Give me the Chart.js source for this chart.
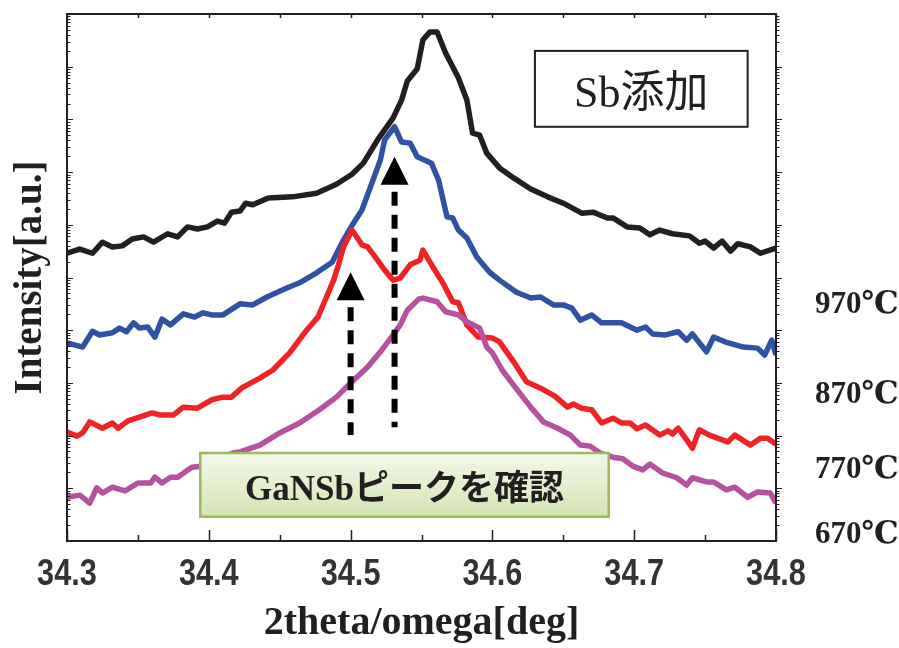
<!DOCTYPE html>
<html>
<head>
<meta charset="utf-8">
<script src="https://cdn.jsdelivr.net/npm/chart.js@4/dist/chart.umd.min.js"></script>
<style>
html,body{margin:0;padding:0;background:#fff;}
#wrap{width:899px;height:648px;}
</style>
</head>
<body>
<div id="wrap"><canvas id="c" width="899" height="648"></canvas></div>
<script>
// ---------- data ----------
const seriesNames = ['970℃', '870℃', '770℃', '670℃'];
const xTickLabels = ['34.3', '34.4', '34.5', '34.6', '34.7', '34.8'];

const x970 = [34.300,34.309,34.318,34.325,34.332,34.339,34.346,34.354,34.361,34.371,34.378,34.385,34.392,34.399,34.406,34.411,34.416,34.422,34.426,34.431,34.442,34.459,34.476,34.490,34.501,34.509,34.519,34.530,34.536,34.540,34.547,34.551,34.556,34.561,34.567,34.576,34.582,34.586,34.591,34.596,34.605,34.615,34.627,34.639,34.650,34.663,34.671,34.681,34.685,34.695,34.704,34.711,34.718,34.727,34.739,34.746,34.750,34.756,34.762,34.768,34.773,34.782,34.789,34.800];
const y970 = [54.6,55.4,54.6,56.7,55.8,56.0,57.3,57.7,56.7,58.3,57.7,59.6,59.2,59.6,60.7,60.3,62.4,62.6,64.1,63.8,65.1,65.3,66.0,67.7,69.6,71.7,76.1,80.3,83.7,87.3,89.6,95.1,96.6,96.6,92.6,87.9,83.7,77.4,77.0,73.6,70.8,68.9,66.8,65.3,64.1,62.2,62.4,61.3,61.3,59.6,59.4,58.1,59.0,58.3,57.9,56.5,56.9,55.6,56.9,55.0,56.4,55.8,54.6,55.6];

const x870 = [34.300,34.311,34.318,34.323,34.332,34.337,34.342,34.347,34.351,34.357,34.362,34.367,34.373,34.382,34.390,34.396,34.402,34.410,34.422,34.431,34.441,34.455,34.464,34.476,34.487,34.495,34.502,34.508,34.515,34.521,34.524,34.531,34.536,34.542,34.547,34.557,34.562,34.568,34.572,34.576,34.582,34.589,34.598,34.605,34.617,34.627,34.634,34.643,34.650,34.656,34.662,34.670,34.677,34.691,34.702,34.708,34.713,34.722,34.731,34.737,34.741,34.751,34.756,34.764,34.777,34.787,34.792,34.797,34.800];
const y870 = [37.6,36.8,39.8,39.1,39.5,40.4,39.7,41.4,40.4,40.6,38.7,42.1,41.0,43.1,42.5,43.3,42.9,42.9,45.0,44.8,46.3,48.0,49.0,50.9,52.9,57.1,60.3,62.8,67.9,72.3,76.1,78.6,75.7,75.5,72.9,71.7,68.5,61.5,61.3,59.0,57.5,53.9,51.0,49.5,47.2,46.1,46.3,44.8,44.8,44.2,41.9,42.9,41.4,41.4,40.0,40.6,39.3,39.1,39.7,38.1,39.3,35.9,38.7,37.8,36.8,36.6,35.3,38.1,35.3];

const x770 = [34.300,34.307,34.311,34.316,34.325,34.332,34.336,34.343,34.351,34.360,34.366,34.375,34.382,34.392,34.402,34.410,34.416,34.423,34.436,34.445,34.457,34.469,34.477,34.483,34.488,34.491,34.495,34.501,34.508,34.512,34.519,34.524,34.530,34.535,34.542,34.549,34.551,34.558,34.565,34.572,34.576,34.582,34.590,34.600,34.605,34.615,34.624,34.634,34.644,34.653,34.657,34.663,34.670,34.677,34.685,34.691,34.697,34.702,34.708,34.718,34.724,34.727,34.731,34.737,34.741,34.746,34.753,34.766,34.771,34.782,34.789,34.794,34.800];
const y770 = [20.7,19.9,20.5,22.6,21.4,22.4,21.4,22.8,23.5,24.3,23.9,23.9,25.4,25.2,26.8,27.3,27.3,29.0,30.9,32.4,35.7,40.0,42.5,46.3,49.5,52.0,55.8,59.0,56.2,55.8,53.3,51.4,49.5,49.9,52.4,53.3,55.2,52.0,49.0,45.4,45.2,41.0,38.7,38.5,37.8,34.0,30.2,29.0,27.5,25.4,26.0,25.2,24.9,22.4,23.3,22.4,22.4,21.3,22.0,20.1,20.9,20.3,21.4,19.2,17.6,21.1,20.1,18.8,20.1,18.2,19.5,19.5,18.4];

const x670 = [34.300,34.309,34.316,34.321,34.325,34.332,34.341,34.350,34.359,34.362,34.367,34.373,34.378,34.388,34.394,34.404,34.417,34.422,34.436,34.450,34.464,34.478,34.490,34.500,34.512,34.521,34.530,34.535,34.540,34.548,34.551,34.561,34.567,34.576,34.582,34.591,34.596,34.600,34.607,34.616,34.627,34.636,34.646,34.655,34.662,34.669,34.676,34.685,34.692,34.699,34.706,34.711,34.720,34.730,34.737,34.741,34.751,34.756,34.765,34.771,34.780,34.787,34.796,34.800];
const y670 = [8.3,8.7,7.2,10.1,9.1,10.2,9.5,11.0,11.0,12.1,11.0,12.1,12.1,14.0,14.2,15.4,16.7,16.9,18.2,20.5,22.4,24.9,27.3,30.0,33.0,35.9,39.1,41.0,43.8,45.9,46.1,45.4,43.5,42.9,41.6,40.4,36.8,35.7,32.4,29.2,25.4,22.6,21.4,20.1,18.2,18.0,16.7,15.9,15.6,14.2,13.5,14.6,12.9,12.0,10.6,12.0,11.2,11.2,9.7,10.2,8.3,9.3,9.1,7.2];

// ---------- styling / annotation settings ----------
const INK = '#231f20';
const colors = ['#231f20', '#2f52a3', '#ee2227', '#b5519f'];
const serif = "'Liberation Serif', 'Times New Roman', 'DejaVu Serif', 'Noto Sans CJK JP', serif";
const tickFont = "bold 37px 'Liberation Sans', Arial, sans-serif";

// annotation anchors in data units (x in deg, y in plot units)
const arrows = [
  {x: 34.500, tip: 51.0, base: 45.7, tail: 20.1},
  {x: 34.531, tip: 72.9, base: 67.6, tail: 21.6}
];
const sbBox = {x0: 34.630, x1: 34.780, y0: 93.0, y1: 78.6, text: 'Sb添加', baseline: 82.4};
const peakBox = {x0: 34.394, x1: 34.682, y0: 16.7, y1: 4.6, text: 'GaNSbピークを確認', baseline: 7.8};
const tempLabelBaselines = [43.3, 26.2, 12.0, -0.4];

// log-style minor ticks for the (label-less) intensity axes
const yLogTicks = [];
for (let d = 0; d < 10; d++) for (let k = 1; k <= 9; k++) yLogTicks.push(k * Math.pow(10, d));

const mk = (xs, ys) => xs.map((x, i) => ({x: x, y: ys[i]}));
const seriesX = [x970, x870, x770, x670];
const seriesY = [y970, y870, y770, y670];

const datasets = seriesNames.map((n, i) => ({
  label: n,
  data: mk(seriesX[i], seriesY[i]),
  borderColor: colors[i],
  backgroundColor: colors[i],
  borderWidth: 5.5,
  pointRadius: 0,
  borderJoinStyle: 'round',
  borderCapStyle: 'butt',
  tension: 0,
  order: [0, 3, 2, 1][i]
}));

const isMajorX = v => Math.abs((v - 34.3) * 10 - Math.round((v - 34.3) * 10)) < 1e-6;

const decorPlugin = {
  id: 'decor',
  afterDatasetsDraw(chart) {
    const {ctx, chartArea: a, scales} = chart;
    const xs = scales.x, ys = scales.y, yl = scales.yl;
    ctx.save();
    // frame
    ctx.strokeStyle = INK;
    ctx.lineWidth = 2;
    ctx.strokeRect(a.left, a.top, a.right - a.left, a.bottom - a.top);
    // x ticks (inward) and condensed tick labels
    ctx.lineWidth = 1.5;
    xs.ticks.forEach(t => {
      const px = Math.round(xs.getPixelForValue(t.value)) + 0.5;
      const major = isMajorX(t.value);
      const L = major ? 11 : 6;
      ctx.beginPath();
      ctx.moveTo(px, a.bottom); ctx.lineTo(px, a.bottom - L);
      ctx.moveTo(px, a.top); ctx.lineTo(px, a.top + 4);
      ctx.stroke();
      if (major) {
        const k = Math.round((t.value - 34.3) * 10);
        ctx.save();
        ctx.translate(xs.getPixelForValue(t.value), a.bottom + 44);
        ctx.scale(0.83, 1);
        ctx.fillStyle = '#333';
        ctx.font = tickFont;
        ctx.textAlign = 'center';
        ctx.textBaseline = 'alphabetic';
        ctx.fillText(xTickLabels[k], 0, 0);
        ctx.restore();
      }
    });
    // y log ticks
    ctx.lineWidth = 1;
    yl.ticks.forEach(t => {
      const py = Math.round(yl.getPixelForValue(t.value)) + 0.5;
      if (py < a.top + 2 || py > a.bottom - 2) return;
      const dec = Math.abs(Math.log10(t.value) - Math.round(Math.log10(t.value))) < 1e-9;
      const L = dec ? 6 : 3.5;
      ctx.beginPath();
      ctx.moveTo(a.left, py); ctx.lineTo(a.left + L, py);
      ctx.moveTo(a.right, py); ctx.lineTo(a.right + L, py);
      ctx.stroke();
    });

    // dashed arrows
    arrows.forEach(ar => {
      const px = xs.getPixelForValue(ar.x);
      const pTip = ys.getPixelForValue(ar.tip);
      const pBase = ys.getPixelForValue(ar.base);
      const pTail = ys.getPixelForValue(ar.tail);
      ctx.strokeStyle = '#000';
      ctx.lineWidth = 6;
      ctx.setLineDash([14, 9]);
      ctx.beginPath();
      ctx.moveTo(px, pBase + 7);
      ctx.lineTo(px, pTail);
      ctx.stroke();
      ctx.setLineDash([]);
      ctx.fillStyle = '#000';
      ctx.beginPath();
      ctx.moveTo(px, pTip);
      ctx.lineTo(px - 14, pBase);
      ctx.lineTo(px + 14, pBase);
      ctx.closePath();
      ctx.fill();
    });

    // GaNSb box
    {
      const x0 = xs.getPixelForValue(peakBox.x0), x1 = xs.getPixelForValue(peakBox.x1);
      const y0 = ys.getPixelForValue(peakBox.y0), y1 = ys.getPixelForValue(peakBox.y1);
      const g = ctx.createLinearGradient(0, y0, 0, y1);
      g.addColorStop(0, '#f3f8ea');
      g.addColorStop(1, '#d5e4b2');
      ctx.fillStyle = g;
      ctx.fillRect(x0, y0, x1 - x0, y1 - y0);
      ctx.strokeStyle = '#9bbb59';
      ctx.lineWidth = 2.5;
      ctx.strokeRect(x0, y0, x1 - x0, y1 - y0);
      ctx.fillStyle = INK;
      ctx.font = "bold 35px " + serif;
      ctx.textAlign = 'center';
      ctx.textBaseline = 'alphabetic';
      ctx.fillText(peakBox.text, (x0 + x1) / 2, ys.getPixelForValue(peakBox.baseline));
    }
    // Sb box
    {
      const x0 = xs.getPixelForValue(sbBox.x0), x1 = xs.getPixelForValue(sbBox.x1);
      const y0 = ys.getPixelForValue(sbBox.y0), y1 = ys.getPixelForValue(sbBox.y1);
      ctx.fillStyle = '#fff';
      ctx.fillRect(x0, y0, x1 - x0, y1 - y0);
      ctx.strokeStyle = INK;
      ctx.lineWidth = 2;
      ctx.strokeRect(x0, y0, x1 - x0, y1 - y0);
      ctx.fillStyle = INK;
      ctx.font = "44px " + serif;
      ctx.textAlign = 'center';
      ctx.textBaseline = 'alphabetic';
      ctx.fillText(sbBox.text, (x0 + x1) / 2, ys.getPixelForValue(sbBox.baseline));
    }
    // temperature labels on the right
    ctx.fillStyle = INK;
    ctx.font = "bold 31px " + serif;
    ctx.textAlign = 'left';
    ctx.textBaseline = 'alphabetic';
    seriesNames.forEach((n, i) => {
      ctx.fillText(n, a.right + 39, ys.getPixelForValue(tempLabelBaselines[i]));
    });
    ctx.restore();
  }
};

new Chart(document.getElementById('c'), {
  type: 'line',
  data: {datasets: datasets},
  options: {
    responsive: false,
    animation: false,
    devicePixelRatio: 1,
    layout: {padding: {top: 14, right: 123, left: 0, bottom: 0}},
    plugins: {legend: {display: false}, tooltip: {enabled: false}},
    elements: {point: {radius: 0}},
    scales: {
      x: {
        type: 'linear', position: 'bottom', min: 34.3, max: 34.8,
        grid: {display: false, drawTicks: false},
        border: {display: false},
        ticks: {stepSize: 0.05, autoSkip: false, maxRotation: 0, display: false},
        title: {display: true, text: '2theta/omega[deg]', color: INK,
          font: {family: serif, size: 40, weight: 'bold', lineHeight: 1},
          padding: {top: 0, bottom: 4}},
        afterFit: s => { s.height = 107; }
      },
      y: {
        type: 'linear', position: 'left', min: 0, max: 100,
        grid: {display: false, drawTicks: false},
        border: {display: false},
        ticks: {display: false},
        title: {display: true, text: 'Intensity[a.u.]', color: INK,
          font: {family: serif, size: 39, weight: 'bold', lineHeight: 1},
          padding: {top: 11, bottom: 0}},
        afterFit: s => { s.width = 67; }
      },
      yl: {
        type: 'logarithmic', position: 'right', min: 1, max: 1e10,
        grid: {display: false, drawTicks: false},
        border: {display: false},
        ticks: {display: false},
        afterBuildTicks: s => { s.ticks = yLogTicks.map(v => ({value: v})); },
        afterFit: s => { s.width = 0; }
      }
    }
  },
  plugins: [decorPlugin]
});
</script>
</body>
</html>
